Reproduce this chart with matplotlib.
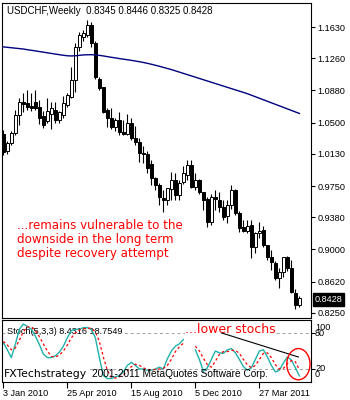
import numpy as np
import matplotlib
matplotlib.use("Agg")
import matplotlib.pyplot as plt
from matplotlib.patches import Ellipse

# weekly USDCHF candles, Jan 2010 .. Jun 2011
opens = [1.037, 1.016, 1.026, 1.038, 1.059, 1.074, 1.073, 1.070, 1.074, 1.068,
         1.058, 1.052, 1.060, 1.065, 1.053, 1.059, 1.071, 1.080, 1.100, 1.139,
         1.151, 1.153, 1.165, 1.144, 1.102, 1.092, 1.065, 1.055, 1.045, 1.053,
         1.039, 1.037, 1.050, 1.032, 1.027, 1.014, 1.013, 1.001, 0.984, 0.976,
         0.961, 0.958, 0.972, 0.982, 0.965, 0.980, 0.988, 1.000, 0.974, 0.982,
         0.968, 0.960, 0.932, 0.962, 0.959, 0.950, 0.940, 0.952, 0.970, 0.943,
         0.926, 0.922, 0.929, 0.903, 0.920, 0.923, 0.905, 0.891, 0.884, 0.866,
         0.873, 0.891, 0.878, 0.849, 0.8345]
highs = [1.041, 1.028, 1.040, 1.065, 1.079, 1.085, 1.088, 1.085, 1.088, 1.077,
         1.064, 1.079, 1.074, 1.074, 1.064, 1.081, 1.085, 1.116, 1.144, 1.157,
         1.160, 1.171, 1.169, 1.146, 1.104, 1.092, 1.067, 1.067, 1.055, 1.062,
         1.053, 1.060, 1.055, 1.046, 1.032, 1.022, 1.016, 1.006, 0.986, 0.979,
         0.970, 0.973, 0.992, 0.991, 0.982, 0.999, 1.006, 1.006, 0.990, 0.983,
         0.968, 0.962, 0.966, 0.970, 0.968, 0.958, 0.958, 0.976, 0.972, 0.945,
         0.935, 0.935, 0.935, 0.921, 0.932, 0.928, 0.905, 0.899, 0.886, 0.878,
         0.891, 0.892, 0.888, 0.853, 0.8446]
lows = [1.012, 1.013, 1.024, 1.035, 1.047, 1.062, 1.065, 1.064, 1.065, 1.048,
        1.044, 1.050, 1.043, 1.049, 1.049, 1.055, 1.068, 1.079, 1.086, 1.135,
        1.146, 1.151, 1.139, 1.102, 1.089, 1.061, 1.045, 1.042, 1.040, 1.035,
        1.035, 1.035, 1.029, 1.023, 1.004, 1.002, 0.990, 0.976, 0.970, 0.953,
        0.944, 0.953, 0.958, 0.958, 0.958, 0.978, 0.982, 0.973, 0.970, 0.966,
        0.947, 0.926, 0.929, 0.947, 0.944, 0.935, 0.931, 0.948, 0.941, 0.921,
        0.921, 0.920, 0.890, 0.896, 0.914, 0.903, 0.888, 0.876, 0.864, 0.854,
        0.867, 0.875, 0.848, 0.830, 0.8325]
closes = [1.015, 1.026, 1.038, 1.059, 1.074, 1.072, 1.069, 1.067, 1.067, 1.056,
          1.047, 1.064, 1.067, 1.053, 1.062, 1.073, 1.083, 1.100, 1.139, 1.153,
          1.156, 1.165, 1.144, 1.104, 1.091, 1.063, 1.055, 1.045, 1.053, 1.039,
          1.037, 1.050, 1.032, 1.027, 1.014, 1.013, 0.996, 0.984, 0.976, 0.962,
          0.958, 0.973, 0.982, 0.964, 0.979, 0.990, 1.000, 0.974, 0.982, 0.968,
          0.958, 0.932, 0.962, 0.960, 0.950, 0.938, 0.952, 0.970, 0.943, 0.925,
          0.922, 0.928, 0.903, 0.920, 0.922, 0.905, 0.891, 0.885, 0.866, 0.873,
          0.891, 0.878, 0.850, 0.834, 0.8428]

# long moving average (navy line)
ma_line = [1.1395, 1.1390, 1.1385, 1.1380, 1.1375, 1.1370, 1.1362, 1.1355, 1.1348, 1.1340,
           1.1333, 1.1325, 1.1318, 1.1310, 1.1303, 1.1296, 1.1290, 1.1288, 1.1290, 1.1295,
           1.1300, 1.1302, 1.1303, 1.1300, 1.1295, 1.1288, 1.1280, 1.1272, 1.1265, 1.1257,
           1.1250, 1.1243, 1.1236, 1.1228, 1.1220, 1.1211, 1.1201, 1.1190, 1.1178, 1.1166,
           1.1153, 1.1140, 1.1127, 1.1112, 1.1097, 1.1082, 1.1067, 1.1052, 1.1037, 1.1022,
           1.1007, 1.0992, 1.0977, 1.0962, 1.0947, 1.0932, 1.0917, 1.0902, 1.0887, 1.0872,
           1.0857, 1.0842, 1.0824, 1.0806, 1.0788, 1.0770, 1.0752, 1.0734, 1.0716, 1.0698,
           1.0680, 1.0662, 1.0644, 1.0626, 1.0608]

nan = np.nan
stoch_main = [64, 52, 39, 61, 86, 95, 91, 86, 75, 61,
              45, 39, 39, 42, 48, 58, 72, 84, 86, 86,
              89, 89, 86, 72, 39, 9, 4, 4, 7, 9,
              15, 26, 31, 26, 20, 20, 18, 18, 20, 23,
              20, 37, 50, 58, 62, 69, nan, nan, 52, 36,
              16, 22, 36, 50, 47, 46, 52, 54, 47, 36,
              24, 18, 22, 36, 50, 52, 40, 26, 15, 18,
              30, 40, 35, 22, 8.4316]
stoch_signal = [66, 60, 52, 55, 68, 82, 90, 90, 84, 74,
                62, 50, 41, 40, 43, 50, 60, 72, 80, 85,
                87, 88, 88, 82, 66, 40, 18, 6, 5, 7,
                10, 17, 24, 28, 26, 22, 19, 19, 19, 20,
                21, 26, 36, 49, 57, 63, nan, nan, 58, 50,
                38, 27, 23, 33, 44, 49, 49, 51, 51, 46,
                36, 27, 22, 26, 36, 46, 47, 39, 27, 20,
                21, 29, 34, 32, 18.7549]

price_ticks = [1.1630, 1.1260, 1.0880, 1.0500, 1.0130, 0.9750, 0.9380, 0.9000, 0.8620, 0.8250]
date_pos = [0, 16, 32, 48, 64]
date_labels = ["3 Jan 2010", "25 Apr 2010", "15 Aug 2010", "5 Dec 2010", "27 Mar 2011"]

W, H = 350, 400
def fx(x):
    return x / W
def fy(y):
    return 1 - y / H

SANS = "Liberation Sans"
fig = plt.figure(figsize=(3.5, 4), dpi=100)
ax = fig.add_axes([fx(2), fy(318), fx(311) - fx(2), fy(3) - fy(318)])
ax2 = fig.add_axes([fx(2), fy(382), fx(311) - fx(2), fy(320) - fy(382)])

x = np.arange(len(opens))
o = np.array(opens); c = np.array(closes)
hi = np.array(highs); lo = np.array(lows)
up = c >= o

# wicks then bodies
ax.vlines(x, lo, hi, color="black", lw=0.8, zorder=2)
body_lo = np.minimum(o, c)
body_h = np.maximum(np.abs(c - o), 0.0007)
ax.bar(x, body_h, bottom=body_lo, width=0.62,
       color=np.where(up, "white", "black"), edgecolor="black", linewidth=0.7, zorder=3)
ax.plot(x, ma_line, color="#000080", lw=1.0, zorder=4)

ax.set_xlim(-0.33, 76.9)
ax.set_ylim(0.8190, 1.1914)
ax.set_xticks([])
ax.yaxis.tick_right()
ax.set_yticks(price_ticks)
ax.set_yticklabels(["%.4f" % v for v in price_ticks])
ax.tick_params(axis="y", direction="out", length=3, width=0.8, pad=1.5,
               labelsize=6.6, labelfontfamily=SANS)
for s in ax.spines.values():
    s.set_linewidth(0.8)

# stochastic panel
ax2.axhline(80, color="#A0A0A0", lw=0.7, ls=(0, (3, 3)), zorder=1)
ax2.axhline(20, color="#A0A0A0", lw=0.7, ls=(0, (3, 3)), zorder=1)
ax2.plot(x, stoch_main, color="#20B2AA", lw=1.0, zorder=2)
ax2.plot(x, stoch_signal, color="red", lw=0.9, ls=(0, (2, 2)), zorder=2)
ax2.plot([54.6, 73.75], [80, 40], color="black", lw=0.8, zorder=3)
ax2.add_patch(Ellipse((73.75, 28), 5.8, 52, fill=False, edgecolor="red", lw=1.0, zorder=3))
ax2.set_xlim(-0.33, 76.9)
ax2.set_ylim(-1.7, 101.7)
ax2.yaxis.tick_right()
ax2.set_yticks([80, 20])
ax2.set_yticklabels([])
ax2.tick_params(axis="y", direction="out", length=3, width=0.8)
ax2.set_xticks(date_pos)
ax2.set_xticklabels(date_labels)
ax2.tick_params(axis="x", direction="out", length=4, width=0.8, pad=1,
                labelsize=6.6, labelfontfamily=SANS)
for lbl in ax2.get_xticklabels():
    lbl.set_ha("left")
for s in ax2.spines.values():
    s.set_linewidth(0.8)

yt = ax2.get_yaxis_transform()
for val, txt in [(90, "100"), (80, "80"), (20, "20"), (10, "0")]:
    ax2.text(1.013, val, txt, transform=yt, fontsize=6.6, family=SANS, va="center", ha="left")

ax2.text(fx(7), fy(331), "Stoch(5,3,3) 8.4316 18.7549", transform=fig.transFigure,
         fontsize=6.6, family=SANS, va="center", zorder=1.5,
         bbox=dict(facecolor="white", edgecolor="none", pad=0))
ax2.text(fx(4), fy(374), "FXTechstrategy", transform=fig.transFigure,
         fontsize=7.8, va="center", zorder=1.5,
         bbox=dict(facecolor="white", edgecolor="none", pad=0.5))
ax2.text(fx(92), fy(374), "2001-2011 MetaQuotes Software Corp.", transform=fig.transFigure,
         fontsize=7.3, family=SANS, va="center", zorder=3)
ax2.text(fx(185), fy(333), "...lower stochs", transform=fig.transFigure,
         fontsize=9, color="red", va="baseline", zorder=1.5,
         bbox=dict(facecolor="white", edgecolor="none", pad=0))

fig.text(fx(7), fy(11), "USDCHF,Weekly  0.8345 0.8446 0.8325 0.8428",
         fontsize=7, family=SANS, va="center")
fig.text(fx(17), fy(219), "...remains vulnerable to the\ndownside in the long term\ndespite recovery attempt",
         fontsize=8.6, color="red", va="top", linespacing=1.12)
fig.text(fx(315), fy(299.5), "0.8428", fontsize=6.6, family=SANS, color="white", va="center",
         bbox=dict(facecolor="black", edgecolor="black", pad=1.2))

fig.savefig("out.png", dpi=100)
